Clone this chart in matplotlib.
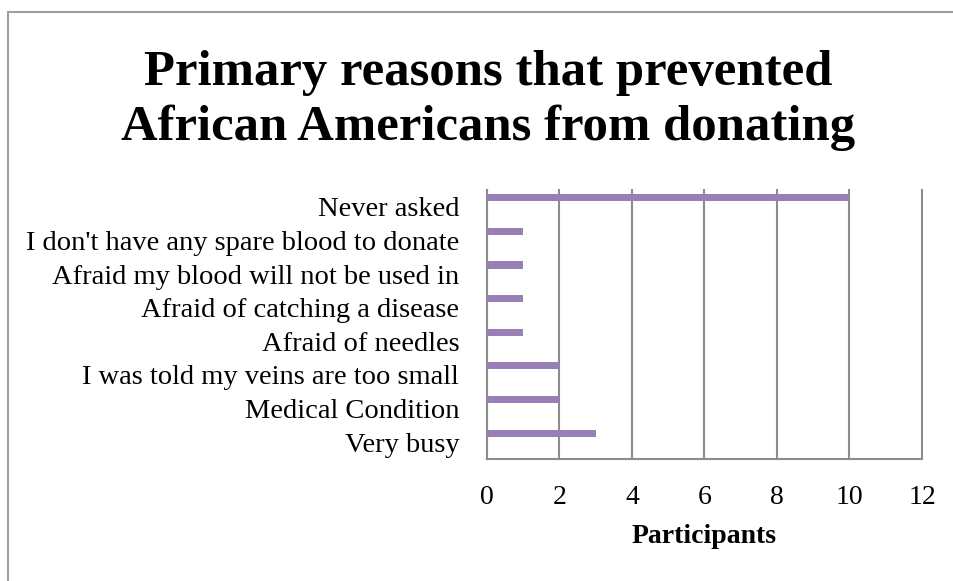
import matplotlib.pyplot as plt
from matplotlib.patches import Rectangle

# data, listed bottom to top as drawn
reasons = ['Very busy', 'Medical Condition', 'I was told my veins are too small',
           'Afraid of needles', 'Afraid of catching a disease',
           'Afraid my blood will not be used in', "I don't have any spare blood to donate",
           'Never asked']
participants = [3, 2, 2, 1, 1, 1, 1, 10]
xticks = [0, 2, 4, 6, 8, 10, 12]

bar_color = '#9880B6'
grid_color = '#8C8C8C'
serif = ['Liberation Serif', 'DejaVu Serif']

fig = plt.figure(figsize=(9.54, 5.81), dpi=100)
W, H = 954, 581

# outer chart border (right and bottom edges run off the picture)
fig.patches.append(Rectangle((8 / W, -0.01), 1.0, 1 - 12 / H + 0.01,
                             transform=fig.transFigure, fill=False,
                             edgecolor='#A0A0A0', linewidth=1.5))

ax = fig.add_axes([487 / W, 1 - 459 / H, (922 - 487) / W, (459 - 190) / H])
ypos = list(range(len(reasons)))
ax.barh([y + 0.27 for y in ypos], participants, height=0.21, color=bar_color, zorder=3)

ax.set_xlim(0, 12)
ax.set_ylim(-0.5, len(reasons) - 0.5)
ax.set_xticks(xticks)
ax.set_xticklabels([str(t) for t in xticks], family=serif, fontsize=20)
ax.set_yticks(ypos)
ax.set_yticklabels(reasons, family=serif, fontsize=20.5)
ax.tick_params(axis='x', length=0, pad=19)
ax.tick_params(axis='y', length=0, pad=20)
ax.xaxis.grid(True, color=grid_color, linewidth=1.5, zorder=0)
for gl in ax.get_xgridlines():
    gl.set_clip_on(False)
for s in ['top', 'right']:
    ax.spines[s].set_visible(False)
for s in ['left', 'bottom']:
    ax.spines[s].set_color(grid_color)
    ax.spines[s].set_linewidth(1.5)

ax.set_xlabel('Participants', family=serif, fontsize=20, fontweight='bold', labelpad=10)

title_x = 488 / W
fig.text(title_x, 1 - 85 / H, 'Primary reasons that prevented',
         ha='center', va='baseline', family=serif, fontsize=36.5, fontweight='bold')
fig.text(title_x, 1 - 140 / H, 'African Americans from donating',
         ha='center', va='baseline', family=serif, fontsize=36.5, fontweight='bold')

fig.savefig('out.png', dpi=100)
